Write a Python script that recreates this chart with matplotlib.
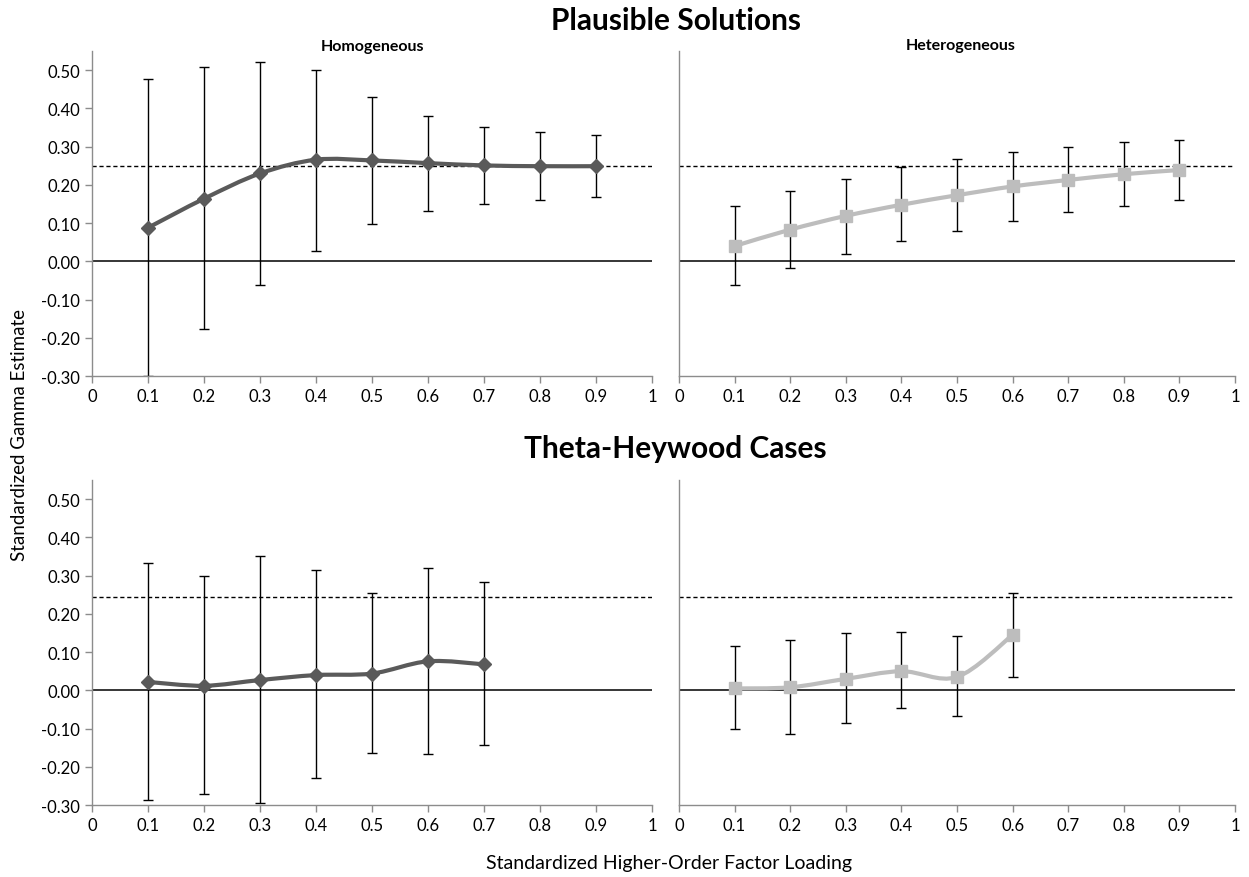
import matplotlib
matplotlib.use("Agg")
import matplotlib.pyplot as plt
import numpy as np
from matplotlib.path import Path
from matplotlib.patches import PathPatch

plt.rcParams['font.family'] = ['Lato', 'DejaVu Sans']

# loadings
x_pl = [0.1, 0.2, 0.3, 0.4, 0.5, 0.6, 0.7, 0.8, 0.9]
x_hw_hom = [0.1, 0.2, 0.3, 0.4, 0.5, 0.6, 0.7]
x_hw_het = [0.1, 0.2, 0.3, 0.4, 0.5, 0.6]

# plausible solutions, homogeneous
hom_pl = [0.088, 0.164, 0.230, 0.266, 0.264, 0.257, 0.251, 0.249, 0.249]
hom_pl_hi = [0.476, 0.508, 0.522, 0.501, 0.430, 0.380, 0.352, 0.338, 0.330]
hom_pl_lo = [-0.300, -0.177, -0.062, 0.027, 0.099, 0.133, 0.150, 0.160, 0.168]

# plausible solutions, heterogeneous
het_pl = [0.040, 0.083, 0.119, 0.148, 0.173, 0.196, 0.213, 0.228, 0.239]
het_pl_hi = [0.145, 0.184, 0.216, 0.248, 0.268, 0.285, 0.300, 0.311, 0.318]
het_pl_lo = [-0.062, -0.018, 0.020, 0.053, 0.080, 0.106, 0.128, 0.145, 0.160]

# theta-heywood cases, homogeneous
hom_hw = [0.022, 0.012, 0.027, 0.040, 0.044, 0.076, 0.068]
hom_hw_hi = [0.334, 0.299, 0.352, 0.316, 0.256, 0.320, 0.284]
hom_hw_lo = [-0.288, -0.270, -0.295, -0.230, -0.163, -0.167, -0.142]

# theta-heywood cases, heterogeneous
het_hw = [0.005, 0.008, 0.030, 0.050, 0.035, 0.145]
het_hw_hi = [0.116, 0.131, 0.149, 0.153, 0.141, 0.255]
het_hw_lo = [-0.100, -0.115, -0.085, -0.047, -0.068, 0.035]

true_pl = 0.25
true_hw = 0.245

xticks = [0, 0.1, 0.2, 0.3, 0.4, 0.5, 0.6, 0.7, 0.8, 0.9, 1]
xticklabels = ['0', '0.1', '0.2', '0.3', '0.4', '0.5', '0.6', '0.7', '0.8', '0.9', '1']
yticks = [-0.3, -0.2, -0.1, 0.0, 0.1, 0.2, 0.3, 0.4, 0.5]


def smooth_path(xs, ys):
    # excel-style smoothed line as cubic bezier segments
    p = np.column_stack([xs, ys])
    verts = [p[0]]
    codes = [Path.MOVETO]
    n = len(p)
    for i in range(n - 1):
        p0 = p[i - 1] if i > 0 else p[i]
        p3 = p[i + 2] if i + 2 < n else p[i + 1]
        c1 = p[i] + (p[i + 1] - p0) / 6
        c2 = p[i + 1] - (p3 - p[i]) / 6
        verts += [c1, c2, p[i + 1]]
        codes += [Path.CURVE4] * 3
    return Path(verts, codes)


def panel(ax, xs, ys, hi, lo, color, marker, msize, truth, show_y):
    ax.set_xlim(0, 1)
    ax.set_ylim(-0.3, 0.55)
    ax.axhline(0, color='black', lw=1.1, zorder=1)
    ax.axhline(truth, color='black', lw=1, ls=(0, (3, 2)), zorder=1)
    ys_a = np.array(ys)
    ax.errorbar(xs, ys, yerr=[ys_a - np.array(lo), np.array(hi) - ys_a], fmt='none',
                ecolor='black', elinewidth=1, capsize=3.5, capthick=1, zorder=2)
    ax.add_patch(PathPatch(smooth_path(xs, ys), fill=False, edgecolor=color, lw=3,
                           zorder=3, capstyle='round'))
    ax.plot(xs, ys, ls='none', marker=marker, ms=msize, color=color, zorder=4)
    for s in ['top', 'right']:
        ax.spines[s].set_visible(False)
    for s in ['left', 'bottom']:
        ax.spines[s].set_color('#8c8c8c')
        ax.spines[s].set_linewidth(1)
    ax.set_xticks(xticks)
    ax.set_xticklabels(xticklabels, fontsize=12)
    ax.tick_params(axis='both', colors='#8c8c8c', labelcolor='black', length=5, width=1)
    if show_y:
        ax.set_yticks(yticks)
        ax.set_yticklabels(['%.2f' % v for v in yticks], fontsize=12)
    else:
        ax.set_yticks([])


fig = plt.figure(figsize=(12.49, 8.78), dpi=100)

ax1 = fig.add_axes([0.0737, 0.5706, 0.4484, 0.370])
ax2 = fig.add_axes([0.5436, 0.5706, 0.4452, 0.370])
ax3 = fig.add_axes([0.0737, 0.0820, 0.4484, 0.370])
ax4 = fig.add_axes([0.5436, 0.0820, 0.4452, 0.370])

dark = '#5a5a5a'
light = '#bdbdbd'
panel(ax1, x_pl, hom_pl, hom_pl_hi, hom_pl_lo, dark, 'D', 7, true_pl, True)
panel(ax2, x_pl, het_pl, het_pl_hi, het_pl_lo, light, 's', 9, true_pl, False)
panel(ax3, x_hw_hom, hom_hw, hom_hw_hi, hom_hw_lo, dark, 'D', 7, true_hw, True)
panel(ax4, x_hw_het, het_hw, het_hw_hi, het_hw_lo, light, 's', 9, true_hw, False)

fig.text(0.541, 0.976, 'Plausible Solutions', ha='center', va='center', fontsize=21.5, fontweight='bold')
fig.text(0.541, 0.489, 'Theta-Heywood Cases', ha='center', va='center', fontsize=21.5, fontweight='bold')
fig.text(0.298, 0.947, 'Homogeneous', ha='center', va='center', fontsize=11.5, fontweight='bold')
fig.text(0.769, 0.948, 'Heterogeneous', ha='center', va='center', fontsize=11.5, fontweight='bold')
fig.text(0.016, 0.505, 'Standardized Gamma Estimate', rotation=90, ha='center', va='center', fontsize=13.5)
fig.text(0.536, 0.017, 'Standardized Higher-Order Factor Loading', ha='center', va='center', fontsize=14)

fig.savefig('out.png', dpi=100)
